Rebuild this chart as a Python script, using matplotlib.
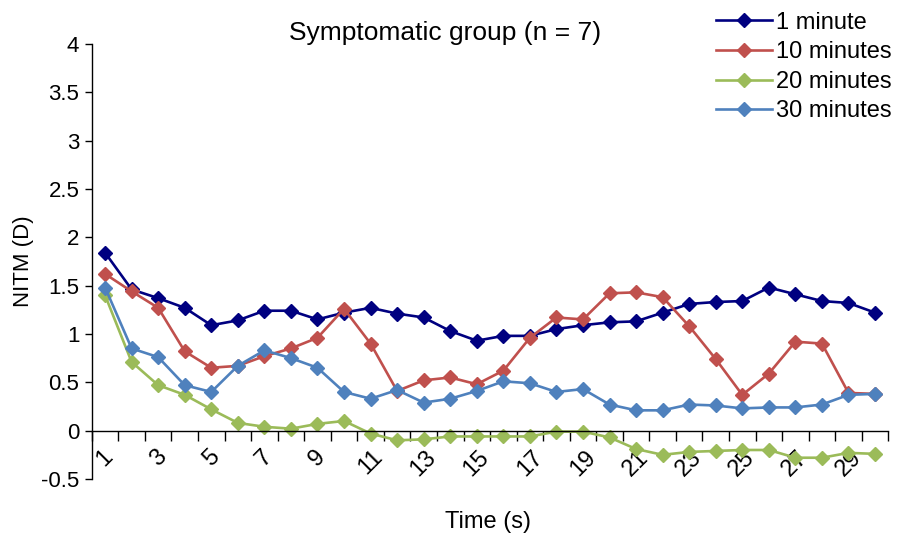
import numpy as np
import matplotlib.pyplot as plt
from matplotlib.transforms import ScaledTranslation

plt.rcParams['font.family'] = ['Liberation Sans', 'DejaVu Sans']

# time points (s)
time_s = list(range(1, 31))

# NITM (D) at each recovery time
one_min = [1.84, 1.46, 1.37, 1.27, 1.09, 1.14, 1.24, 1.24, 1.15, 1.22,
           1.27, 1.21, 1.17, 1.03, 0.93, 0.98, 0.98, 1.05, 1.09, 1.12,
           1.13, 1.22, 1.31, 1.33, 1.34, 1.48, 1.41, 1.34, 1.32, 1.22]
ten_min = [1.62, 1.44, 1.27, 0.82, 0.65, 0.67, 0.77, 0.85, 0.96, 1.26,
           0.90, 0.41, 0.52, 0.55, 0.48, 0.62, 0.96, 1.17, 1.15, 1.42,
           1.43, 1.38, 1.08, 0.74, 0.37, 0.59, 0.92, 0.90, 0.39, 0.38]
twenty_min = [1.40, 0.71, 0.47, 0.37, 0.22, 0.08, 0.04, 0.02, 0.07, 0.10,
              -0.03, -0.10, -0.09, -0.06, -0.06, -0.06, -0.06, -0.01, -0.01, -0.07,
              -0.19, -0.25, -0.22, -0.21, -0.20, -0.20, -0.28, -0.28, -0.23, -0.24]
thirty_min = [1.48, 0.85, 0.76, 0.47, 0.40, 0.67, 0.83, 0.75, 0.65, 0.40,
              0.33, 0.42, 0.29, 0.33, 0.41, 0.51, 0.49, 0.40, 0.43, 0.27,
              0.21, 0.21, 0.27, 0.26, 0.23, 0.24, 0.24, 0.27, 0.37, 0.38]

series = [('1 minute', one_min, '#000080'),
          ('10 minutes', ten_min, '#C0504D'),
          ('20 minutes', twenty_min, '#9BBB59'),
          ('30 minutes', thirty_min, '#4F81BD')]

fig = plt.figure(figsize=(9, 5.34), dpi=100)
ax = fig.add_axes([0.102, 0.103, 0.885, 0.815])

x = np.arange(len(time_s))
for name, vals, col in series:
    ax.plot(x, vals, color=col, lw=1.9, marker='D', ms=7.5, label=name)

ax.set_xlim(-0.5, len(time_s) - 0.5)
ax.set_ylim(-0.5, 4)
ax.set_yticks(np.arange(-0.5, 4.01, 0.5))
ax.set_yticklabels(['-0.5', '0', '0.5', '1', '1.5', '2', '2.5', '3', '3.5', '4'])

# category axis: labels at odd points, ticks between categories
ax.set_xticks(x[::2])
ax.set_xticklabels([str(t) for t in time_s[::2]])
ax.set_xticks(np.arange(-0.5, len(time_s), 1), minor=True)
ax.tick_params(axis='x', which='major', length=0, labelsize=17, pad=11,
               labelrotation=45)
ax.tick_params(axis='x', which='minor', length=7, direction='out', width=1)
ax.tick_params(axis='y', length=5, direction='out', labelsize=16, width=1, pad=4)
shift = ScaledTranslation(-7 / 100, 0, fig.dpi_scale_trans)
for lab in ax.get_xticklabels():
    lab.set_verticalalignment('center')
    lab.set_horizontalalignment('center')
    lab.set_transform(lab.get_transform() + shift)

ax.spines['top'].set_visible(False)
ax.spines['right'].set_visible(False)
ax.spines['bottom'].set_position(('data', 0))
for s in ('left', 'bottom'):
    ax.spines[s].set_color('#000000')
    ax.spines[s].set_linewidth(1)

fig.text(0.494, 0.938, 'Symptomatic group (n = 7)', fontsize=19,
         ha='center', va='center')
ax.set_ylabel('NITM (D)', fontsize=16, labelpad=5)
fig.text(0.542, 0.012, 'Time (s)', fontsize=17, ha='center')

fig.legend(loc='upper left', bbox_to_anchor=(0.795, 0.978), frameon=False,
           fontsize=17, handlelength=2.4, handletextpad=0.15,
           labelspacing=0.32, borderaxespad=0, borderpad=0)

fig.savefig('out.png', dpi=100)
